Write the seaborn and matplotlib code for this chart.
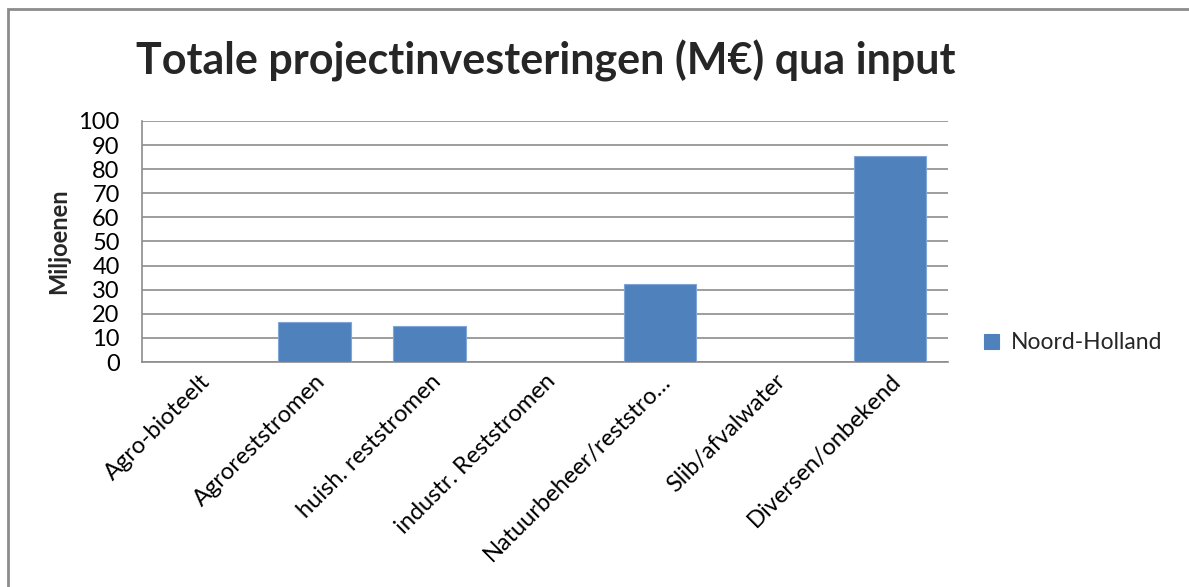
import matplotlib
matplotlib.use("Agg")
import matplotlib.pyplot as plt
from matplotlib.patches import Rectangle
import seaborn as sns
import pandas as pd

categories = [
    "Agro-bioteelt",
    "Agroreststromen",
    "huish. reststromen",
    "industr. Reststromen",
    "Natuurbeheer/reststro…",
    "Slib/afvalwater",
    "Diversen/onbekend",
]
values = [0, 16.7, 15.0, 0, 32.2, 0, 85.6]
series_name = "Noord-Holland"
y_ticks = list(range(0, 101, 10))

sns.set_theme(style="white")
plt.rcParams["font.family"] = ["Lato", "DejaVu Sans"]

df = pd.DataFrame({"categorie": categories, "waarde": values, "reeks": series_name})

fig = plt.figure(figsize=(11.89, 5.87), dpi=100)
ax = fig.add_axes([0.1194, 0.3833, 0.797 - 0.1194, 0.7939 - 0.3833])

sns.barplot(data=df, x="categorie", y="waarde", hue="reeks", palette=["#4F81BD"],
            saturation=1, width=0.63, ax=ax, edgecolor="#7FA6D6", linewidth=0.8,
            legend=True, zorder=3)

ax.set_ylim(0, 100)
ax.set_yticks(y_ticks)
ax.set_xlim(-0.5, len(categories) - 0.5)
ax.yaxis.grid(True, color="#8C8C8C", linewidth=1.2, zorder=0)
ax.set_axisbelow(True)
for side in ["top", "right"]:
    ax.spines[side].set_visible(False)
for side in ["left", "bottom"]:
    ax.spines[side].set_color("#8C8C8C")
    ax.spines[side].set_linewidth(1.2)
ax.tick_params(axis="y", length=0, labelsize=17, colors="black", pad=16)
ax.tick_params(axis="x", length=0, labelsize=17, colors="black", pad=6)
ax.set_xticks(range(len(categories)))
ax.set_xticklabels(categories, rotation=45, ha="right", rotation_mode="anchor")
ax.set_xlabel("")
ax.set_ylabel("Miljoenen", fontsize=17, fontweight="bold", labelpad=6)

leg = ax.legend(loc="center left", bbox_to_anchor=(1.02, 0.08), frameon=False,
                fontsize=16.5, handlelength=0.65, handleheight=0.65, handletextpad=0.5)
for h in leg.legend_handles:
    h.set_edgecolor("#4F81BD")

fig.text(0.459, 0.897, "Totale projectinvesteringen (M\u20ac) qua input",
         ha="center", va="center", fontsize=31, fontweight="bold")

# outer chart frame
fig.patches.append(Rectangle((0.0065, -0.05), 1.1, 1.035, transform=fig.transFigure,
                             fill=False, edgecolor="#8C8C8C", linewidth=2.0))

fig.savefig("out.png", dpi=100)
